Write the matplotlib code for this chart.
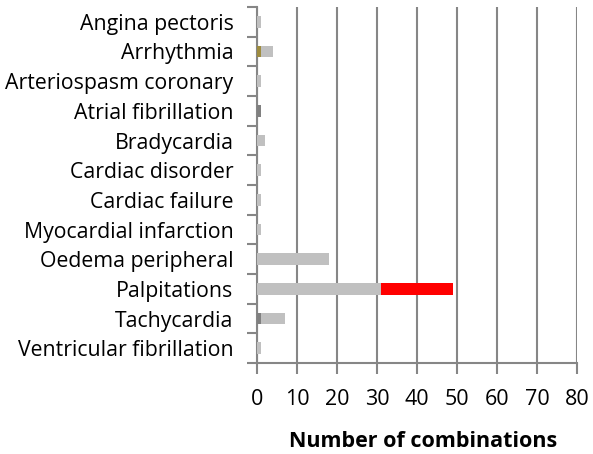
import numpy as np
import matplotlib
matplotlib.use("Agg")
import matplotlib.pyplot as plt

plt.rcParams['font.family'] = ['Open Sans', 'DejaVu Sans']

categories = ["Angina pectoris", "Arrhythmia", "Arteriospasm coronary",
              "Atrial fibrillation", "Bradycardia", "Cardiac disorder",
              "Cardiac failure", "Myocardial infarction", "Oedema peripheral",
              "Palpitations", "Tachycardia", "Ventricular fibrillation"]

# stacked segments, drawn left to right in this order
dark_vals = [0, 0, 0, 1, 0, 0, 0, 0, 0, 0, 1, 0]
olive_vals = [0, 1, 0, 0, 0, 0, 0, 0, 0, 0, 0, 0]
light_vals = [1, 3, 1, 0, 2, 1, 1, 1, 18, 31, 6, 1]
red_vals = [0, 0, 0, 0, 0, 0, 0, 0, 0, 18, 0, 0]

series = [(dark_vals, "#808080"), (olive_vals, "#9e8c3f"),
          (light_vals, "#c0c0c0"), (red_vals, "#ff0000")]

fig = plt.figure(figsize=(5.93, 4.54), dpi=100)
ax = fig.add_axes([0.4334, 0.2004, 0.5396, 0.7842])

y = np.arange(len(categories))
left = np.zeros(len(categories))
for vals, col in series:
    vals = np.array(vals, dtype=float)
    ax.barh(y, vals, left=left, height=0.4, color=col, zorder=3)
    left += vals

ax.set_ylim(len(categories) - 0.5, -0.5)
ax.set_xlim(0, 80)
ax.set_xticks(np.arange(0, 81, 10))
ax.set_yticks(y)
ax.set_yticklabels(categories, fontsize=15.3)
ax.set_yticks(np.arange(-0.5, len(categories)), minor=True)
ax.tick_params(axis='y', which='major', length=0, pad=17)
ax.tick_params(axis='y', which='minor', length=7, width=1.5, color="#868686")
ax.tick_params(axis='x', length=8, width=1.5, color="#868686", labelsize=15.5, pad=11)

ax.grid(axis='x', color="#868686", linewidth=1.5, zorder=0)
for s in ['top', 'right']:
    ax.spines[s].set_visible(False)
for s in ['left', 'bottom']:
    ax.spines[s].set_color("#868686")
    ax.spines[s].set_linewidth(1.5)

ax.set_xlabel("Number of combinations", fontsize=15.5, fontweight='bold', labelpad=10)
ax.xaxis.set_label_coords(0.52, -0.19)

fig.savefig("out.png", dpi=100)
